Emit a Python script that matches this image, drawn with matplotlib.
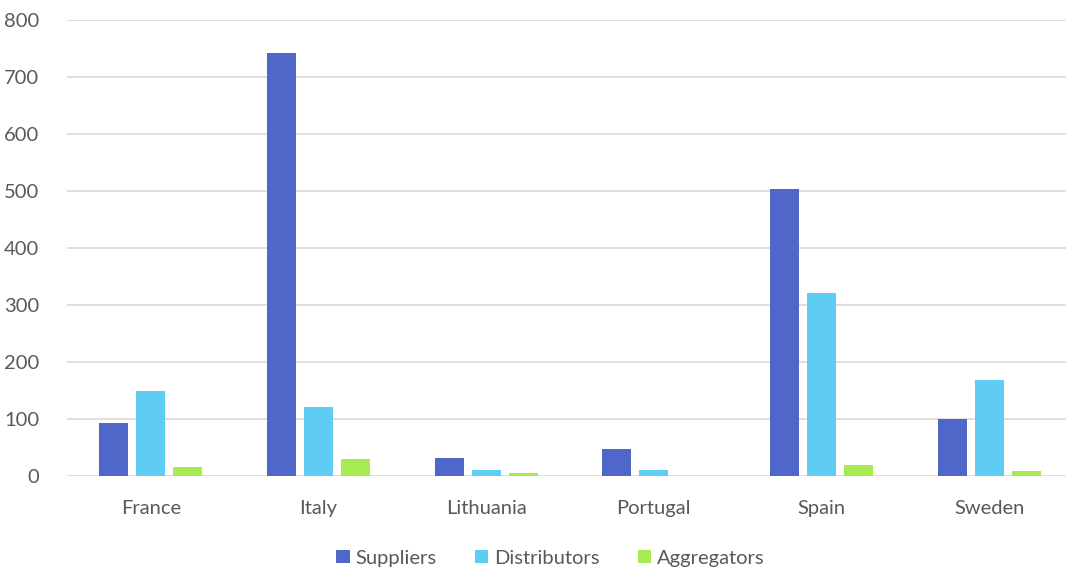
import numpy as np
import matplotlib.pyplot as plt

countries = ['France', 'Italy', 'Lithuania', 'Portugal', 'Spain', 'Sweden']
suppliers = [93, 742, 32, 47, 503, 100]
distributors = [149, 121, 10, 10, 321, 169]
aggregators = [15, 30, 5, 0, 19, 8]

series = [('Suppliers', suppliers, '#4E67C8'),
          ('Distributors', distributors, '#5ECCF3'),
          ('Aggregators', aggregators, '#A7EA52')]

plt.rcParams['font.family'] = ['Lato', 'DejaVu Sans']
txt = '#595959'

fig = plt.figure(figsize=(10.66, 5.72), dpi=100)
ax = fig.add_axes([67 / 1066, 1 - 476 / 572, 1 - 67 / 1066, 456 / 572])

x = np.arange(len(countries))
w = 0.173
step = 0.22
for i, (name, vals, col) in enumerate(series):
    ax.bar(x + (i - 1) * step, vals, width=w, color=col, label=name, zorder=3)

ax.set_ylim(0, 800)
ax.set_yticks(range(0, 801, 100))
ax.set_xlim(-0.5, 5.458)
ax.set_xticks(x)
ax.set_xticklabels(countries)
ax.yaxis.grid(True, color='#D9D9D9', linewidth=1.2, zorder=0)
for s in ax.spines.values():
    s.set_visible(False)
ax.tick_params(axis='both', length=0, labelsize=14.5, colors=txt)
ax.tick_params(axis='x', pad=17)
ax.tick_params(axis='y', pad=20)

ax.legend(loc='center', bbox_to_anchor=(0.484, -0.18), ncol=3, frameon=False,
          fontsize=14.5, labelcolor=txt, handlelength=0.65, handleheight=0.65,
          handletextpad=0.3, columnspacing=1.9)

fig.savefig('out.png', dpi=100)
